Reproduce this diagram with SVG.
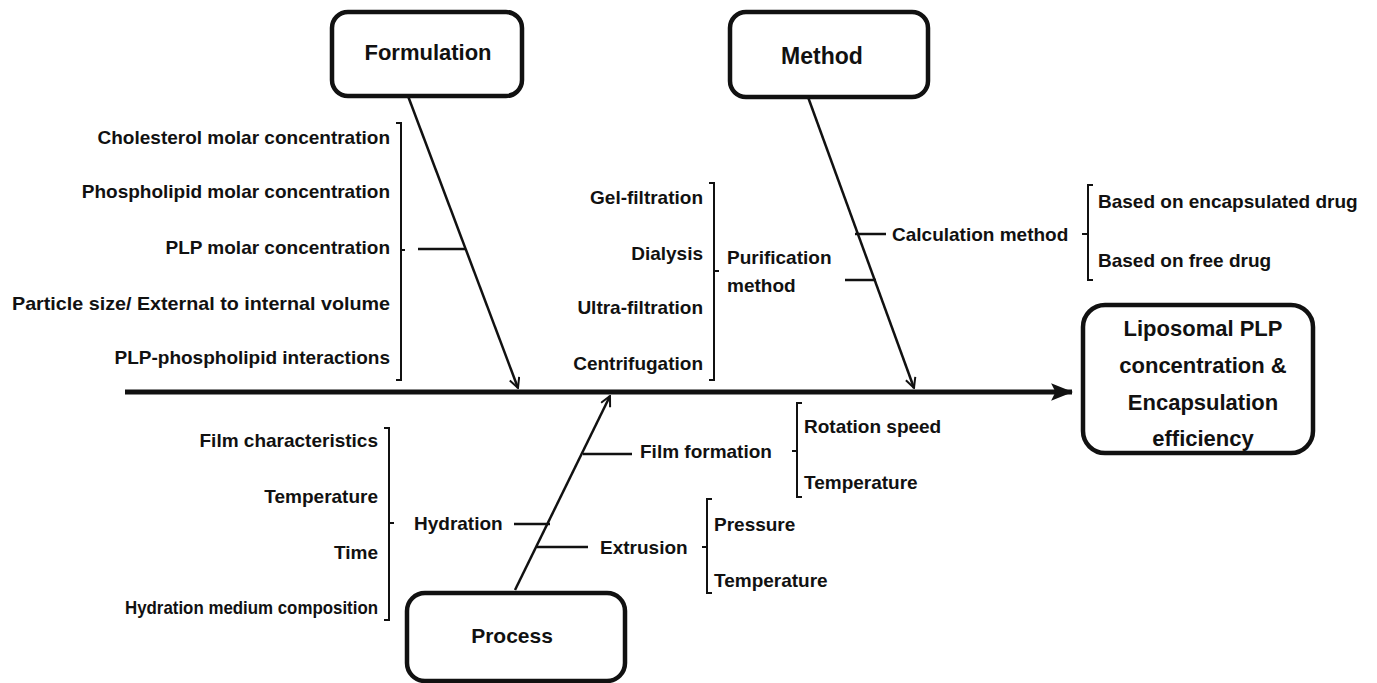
<svg xmlns="http://www.w3.org/2000/svg" width="1377" height="683" viewBox="0 0 1377 683">
<defs>
<style>
.t{font-family:"Liberation Sans",Arial,sans-serif;font-weight:bold;font-size:19px;fill:#111;}
.r{text-anchor:end;}
.m{text-anchor:middle;}
.h{font-size:22px;}
.box{fill:#fff;stroke:#111;stroke-width:4.5;}
.ln{stroke:#111;stroke-width:2.5;fill:none;}
.br{stroke:#111;stroke-width:2;fill:none;}
</style>
<marker id="open" viewBox="0 0 12 12" refX="11" refY="6" markerWidth="12" markerHeight="12" markerUnits="userSpaceOnUse" orient="auto">
<path d="M1,1 L11,6 L1,11" fill="none" stroke="#111" stroke-width="2"/>
</marker>
<marker id="fill" viewBox="0 0 20 20" refX="19" refY="10" markerWidth="22" markerHeight="22" markerUnits="userSpaceOnUse" orient="auto">
<path d="M0,2 L20,10 L0,18 L4,10 Z" fill="#111"/>
</marker>
</defs>
<rect width="1377" height="683" fill="#fff"/>

<g id="connectors">
<line x1="125" y1="392" x2="1072" y2="392" stroke="#111" stroke-width="5" marker-end="url(#fill)"/>
<line class="ln" x1="408" y1="96" x2="518" y2="388" marker-end="url(#open)"/>
<line class="ln" x1="808" y1="97" x2="914" y2="388" marker-end="url(#open)"/>
<line class="ln" x1="515" y1="590" x2="610" y2="396" marker-end="url(#open)"/>
<line class="ln" x1="418" y1="249" x2="466" y2="249"/>
<line class="ln" x1="845" y1="280" x2="876" y2="280"/>
<line class="ln" x1="855" y1="234" x2="886" y2="234"/>
<line class="ln" x1="583" y1="454" x2="632" y2="454"/>
<line class="ln" x1="514" y1="524" x2="550" y2="524"/>
<line class="ln" x1="537" y1="547" x2="588" y2="547"/>
</g>

<g id="formulation">
<rect class="box" x="332" y="12" width="190" height="84" rx="16"/>
<text class="t m h" x="428" y="60">Formulation</text>
</g>
<g id="formulation-factors">
<path class="br" d="M396,123 H401 V380 H396 M401,250 H405"/>
<text class="t r" x="390" y="144">Cholesterol molar concentration</text>
<text class="t r" x="390" y="198">Phospholipid molar concentration</text>
<text class="t r" x="390" y="254">PLP molar concentration</text>
<text class="t r" x="390" y="310" textLength="378" lengthAdjust="spacingAndGlyphs">Particle size/ External to internal volume</text>
<text class="t r" x="390" y="364">PLP-phospholipid interactions</text>
</g>

<g id="method">
<rect class="box" x="730" y="12" width="198" height="85" rx="16"/>
<text class="t m" style="font-size:23px" x="822" y="64">Method</text>
</g>
<g id="purification">
<path class="br" d="M709,183 H714 V380 H709 M714,271 H719"/>
<text class="t r" x="703" y="204">Gel-filtration</text>
<text class="t r" x="703" y="260">Dialysis</text>
<text class="t r" x="703" y="314">Ultra-filtration</text>
<text class="t r" x="703" y="370">Centrifugation</text>
<text class="t" x="727" y="264">Purification</text>
<text class="t" x="727" y="292">method</text>
</g>
<g id="calculation">
<text class="t" x="892" y="241">Calculation method</text>
<path class="br" d="M1093,185 H1088 V280 H1093 M1088,234 H1082"/>
<text class="t" x="1098" y="208">Based on encapsulated drug</text>
<text class="t" x="1098" y="267">Based on free drug</text>
</g>

<g id="outcome">
<rect class="box" x="1083" y="305" width="230" height="148" rx="22"/>
<text class="t m h" x="1203" y="336">Liposomal PLP</text>
<text class="t m h" x="1203" y="373">concentration &amp;</text>
<text class="t m h" x="1203" y="410">Encapsulation</text>
<text class="t m h" x="1203" y="446">efficiency</text>
</g>

<g id="process">
<rect class="box" x="407" y="593" width="218" height="88" rx="18"/>
<text class="t m" style="font-size:21px" x="512" y="643">Process</text>
</g>
<g id="hydration">
<path class="br" d="M384,428 H389 V620 H384 M389,523 H394"/>
<text class="t r" x="378" y="447">Film characteristics</text>
<text class="t r" x="378" y="503">Temperature</text>
<text class="t r" x="378" y="559">Time</text>
<text class="t r" x="378" y="614" textLength="253" lengthAdjust="spacingAndGlyphs">Hydration medium composition</text>
<text class="t" x="414" y="530">Hydration</text>
</g>
<g id="film-formation">
<text class="t" x="640" y="458">Film formation</text>
<path class="br" d="M802,403 H797 V497 H802 M797,451 H792"/>
<text class="t" x="804" y="433">Rotation speed</text>
<text class="t" x="804" y="489">Temperature</text>
</g>
<g id="extrusion">
<text class="t" x="600" y="554">Extrusion</text>
<path class="br" d="M712,499 H707 V593 H712 M707,547 H702"/>
<text class="t" x="714" y="531">Pressure</text>
<text class="t" x="714" y="587">Temperature</text>
</g>
</svg>
